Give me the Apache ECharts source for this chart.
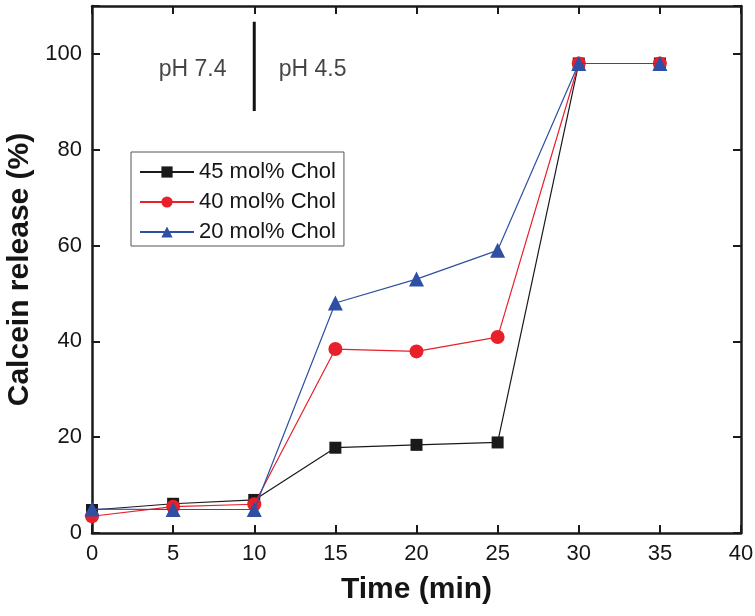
<!DOCTYPE html>
<html><head><meta charset="utf-8">
<script src="https://cdn.jsdelivr.net/npm/echarts@6/dist/echarts.min.js"></script>
<style>html,body{margin:0;padding:0;background:#fff}#c{width:755px;height:616px}</style>
</head><body><div id="c"></div>
<script>
const times = [0, 5, 10, 15, 20, 25, 30, 35];
const chol45 = [4.8, 6.1, 6.9, 17.8, 18.4, 18.9, 98, 98];
const chol40 = [3.5, 5.5, 6.0, 38.4, 37.9, 40.9, 98, 98];
const chol20 = [5.0, 4.9, 4.9, 48.0, 53.0, 59.0, 98, 98];
const seriesNames = ['45 mol% Chol', '40 mol% Chol', '20 mol% Chol'];
const phLabels = ['pH 7.4', 'pH 4.5'];
const phLabelPos = [[6.2, 96.7], [13.6, 96.7]];
const phDivider = [[10, 106.7], [10, 88.1]];

const FONT = '"Liberation Sans", Arial, Helvetica, sans-serif';
const TXT = '#151515';
const pair = (xs, ys) => xs.map((x, i) => [x, ys[i]]);
const chart = echarts.init(document.getElementById('c'));
const axisLine = {show: true, onZero: false, lineStyle: {color: '#1a1a1a', width: 2.5}};
const tick = {show: true, inside: true, length: 8, lineStyle: {color: '#1a1a1a', width: 2}};
chart.setOption({
  animation: false,
  backgroundColor: '#fff',
  grid: {left: 92, right: 14, top: 6, bottom: 83, containLabel: false, outerBoundsMode: 'none'},
  legend: {
    orient: 'vertical', left: 131, top: 152,
    data: seriesNames,
    itemWidth: 54, itemHeight: 14, itemGap: 8,
    padding: [9, 8, 3, 8],
    borderColor: '#555', borderWidth: 1,
    textStyle: {fontFamily: FONT, fontSize: 22, color: TXT}
  },
  xAxis: [{
    type: 'value', min: 0, max: 40, interval: 5, position: 'bottom',
    axisLine: axisLine, axisTick: tick, splitLine: {show: false},
    axisLabel: {fontFamily: FONT, fontSize: 22, color: TXT, margin: 10},
    name: 'Time (min)', nameLocation: 'middle', nameGap: 42,
    nameTextStyle: {fontFamily: FONT, fontSize: 30, fontWeight: 'bold', color: TXT}
  }, {
    type: 'value', min: 0, max: 40, interval: 5, position: 'top',
    axisLine: axisLine, axisTick: tick, splitLine: {show: false}, axisLabel: {show: false}
  }],
  yAxis: [{
    type: 'value', min: 0, max: 110, interval: 20, position: 'left',
    axisLine: axisLine, axisTick: tick, splitLine: {show: false},
    axisLabel: {fontFamily: FONT, fontSize: 22, color: TXT, margin: 10,
      formatter: v => (v > 100 ? '' : String(v))},
    name: 'Calcein release (%)', nameLocation: 'middle', nameGap: 56,
    nameTextStyle: {fontFamily: FONT, fontSize: 30, fontWeight: 'bold', color: TXT}
  }, {
    type: 'value', min: 0, max: 110, interval: 20, position: 'right',
    axisLine: axisLine, axisTick: tick, splitLine: {show: false},
    axisLabel: {show: false}
  }],
  series: [
    {name: seriesNames[0], type: 'line', data: pair(times, chol45), symbol: 'rect', symbolSize: 12,
      itemStyle: {color: '#1a1a1a'}, lineStyle: {width: 1.2, color: '#1a1a1a'}, z: 3},
    {name: seriesNames[1], type: 'line', data: pair(times, chol40), symbol: 'circle', symbolSize: 14,
      itemStyle: {color: '#e8202a'}, lineStyle: {width: 1.2, color: '#e8202a'}, z: 4},
    {name: seriesNames[2], type: 'line', data: pair(times, chol20), symbol: 'triangle', symbolSize: 15,
      itemStyle: {color: '#2e4fa3'}, lineStyle: {width: 1.2, color: '#2e4fa3'}, z: 5},
    {type: 'line', data: phDivider, symbol: 'none', lineStyle: {color: '#111', width: 3}, silent: true},
    {type: 'scatter', symbolSize: 0, silent: true,
      data: phLabelPos.map((p, i) => ({value: p, label: {formatter: phLabels[i]}})),
      label: {show: true, position: 'inside', fontFamily: FONT, fontSize: 23, color: TXT}},
    {type: 'line', xAxisIndex: 1, yAxisIndex: 1, data: [], silent: true, symbol: 'none'}
  ]
});
</script></body></html>
